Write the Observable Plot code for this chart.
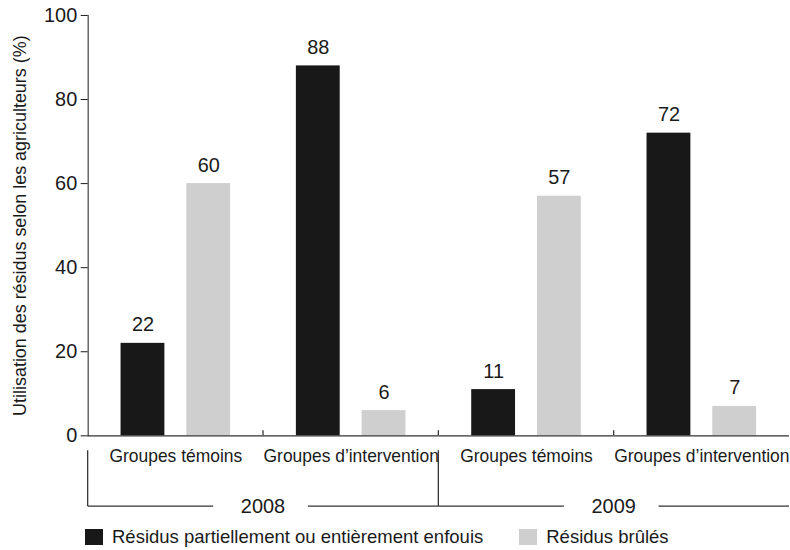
<!DOCTYPE html>
<html>
<head>
<meta charset="utf-8">
<script src="https://cdn.jsdelivr.net/npm/d3@7"></script>
<script src="https://cdn.jsdelivr.net/npm/@observablehq/plot@0.6"></script>
<style>
  html, body { margin: 0; padding: 0; background: #fff; overflow: hidden; }
  body { font-family: "Liberation Sans", Arial, Helvetica, sans-serif; color: #1a1a1a; }
  #chart svg g[aria-label="y-axis tick label"], #chart svg g[aria-label="y-axis tick label"] text { font-size: 20px !important; }
  #chart svg g[aria-label="y-axis label"], #chart svg g[aria-label="y-axis label"] text { font-size: 18px !important; }
  #chart svg g[aria-label="fx-axis tick label"], #chart svg g[aria-label="fx-axis tick label"] text { font-size: 17.5px !important; }
  .legend { display: flex; align-items: center; padding-left: 85px; height: 28px; padding-top: 3px; font-size: 18.5px; }
  .legend .item { display: flex; align-items: center; margin-right: 36px; }
  .legend .sw { width: 18px; height: 16px; margin-right: 9px; }
</style>
</head>
<body>
<div id="chart"></div>
<script>
// ---- data ----
const years = ["2008", "2008", "2009", "2009"];
const groups = ["Groupes témoins", "Groupes d’intervention", "Groupes témoins", "Groupes d’intervention"];
const series = ["Résidus partiellement ou entièrement enfouis", "Résidus brûlés"];
const enfouis = [22, 88, 11, 72];
const brules = [60, 6, 57, 7];
const yTicks = [0, 20, 40, 60, 80, 100];
const colors = ["#181818", "#cfcfcf"];
const yLabel = "Utilisation des résidus selon les agriculteurs (%)";

const keys = groups.map((g, i) => years[i] + "|" + g);
const data = [];
keys.forEach((k, i) => {
  data.push({key: k, series: series[0], value: enfouis[i]});
  data.push({key: k, series: series[1], value: brules[i]});
});

const plot = Plot.plot({
  width: 793,
  height: 522,
  marginLeft: 86,
  marginRight: 0,
  marginTop: 15,
  marginBottom: 85,
  style: {fontFamily: '"Liberation Sans", Arial, Helvetica, sans-serif', fontSize: "19px", color: "#1a1a1a", background: "#fff", overflow: "visible"},
  fx: {domain: keys, padding: 0, axis: "bottom", tickSize: 0, tickPadding: 14, tickFormat: k => k.split("|")[1], label: null},
  x: {domain: series, paddingInner: 0.328, paddingOuter: 0.478, axis: null},
  y: {domain: [0, 100], ticks: yTicks, tickSize: 7, tickPadding: 4, line: true, label: yLabel, labelAnchor: "center", labelOffset: 75, labelArrow: "none"},
  color: {domain: series, range: colors},
  marks: [
    Plot.barY(data, {fx: "key", x: "series", y: "value", fill: "series"}),
    Plot.text(data, {fx: "key", x: "series", y: "value", text: d => String(d.value), dy: -12, lineAnchor: "bottom", fontSize: 20, fill: "#1a1a1a"}),
    Plot.ruleY([0], {stroke: "#333", strokeWidth: 1.3})
  ]
});

document.getElementById("chart").appendChild(plot);

// ---- group separators and year brackets, from Plot's own scales ----
const svg = d3.select(plot);
const fxS = plot.scale("fx");
const yS = plot.scale("y");
const y0 = yS.apply(0);
const bw = fxS.bandwidth;
const g = svg.append("g").attr("stroke", "#333").attr("stroke-width", 1.3);
keys.forEach((k, i) => {
  if (i > 0) {
    const x = fxS.apply(k);
    g.append("line").attr("x1", x).attr("x2", x).attr("y1", y0).attr("y2", y0 - 5);
  }
});
const uniqYears = [...new Set(years)];
uniqYears.forEach(yr => {
  const ks = keys.filter((k, i) => years[i] === yr);
  const x1 = fxS.apply(ks[0]);
  const x2 = fxS.apply(ks[ks.length - 1]) + bw;
  const mid = (x1 + x2) / 2;
  const yb = y0 + 71;
  g.append("line").attr("x1", x1).attr("x2", x1).attr("y1", y0 + 15).attr("y2", yb);
  g.append("line").attr("x1", x1).attr("x2", mid - 50).attr("y1", yb).attr("y2", yb);
  g.append("line").attr("x1", mid + 45).attr("x2", x2).attr("y1", yb).attr("y2", yb);
  svg.append("text").attr("x", mid).attr("y", yb).attr("dy", "0.36em")
    .attr("text-anchor", "middle").attr("font-size", 20).attr("fill", "#1a1a1a").text(yr);
});

// ---- legend ----
const legend = d3.select("body").append("div").attr("class", "legend");
series.forEach((s, i) => {
  const it = legend.append("div").attr("class", "item");
  it.append("div").attr("class", "sw").style("background", colors[i]);
  it.append("span").text(s);
});
</script>
</body>
</html>
